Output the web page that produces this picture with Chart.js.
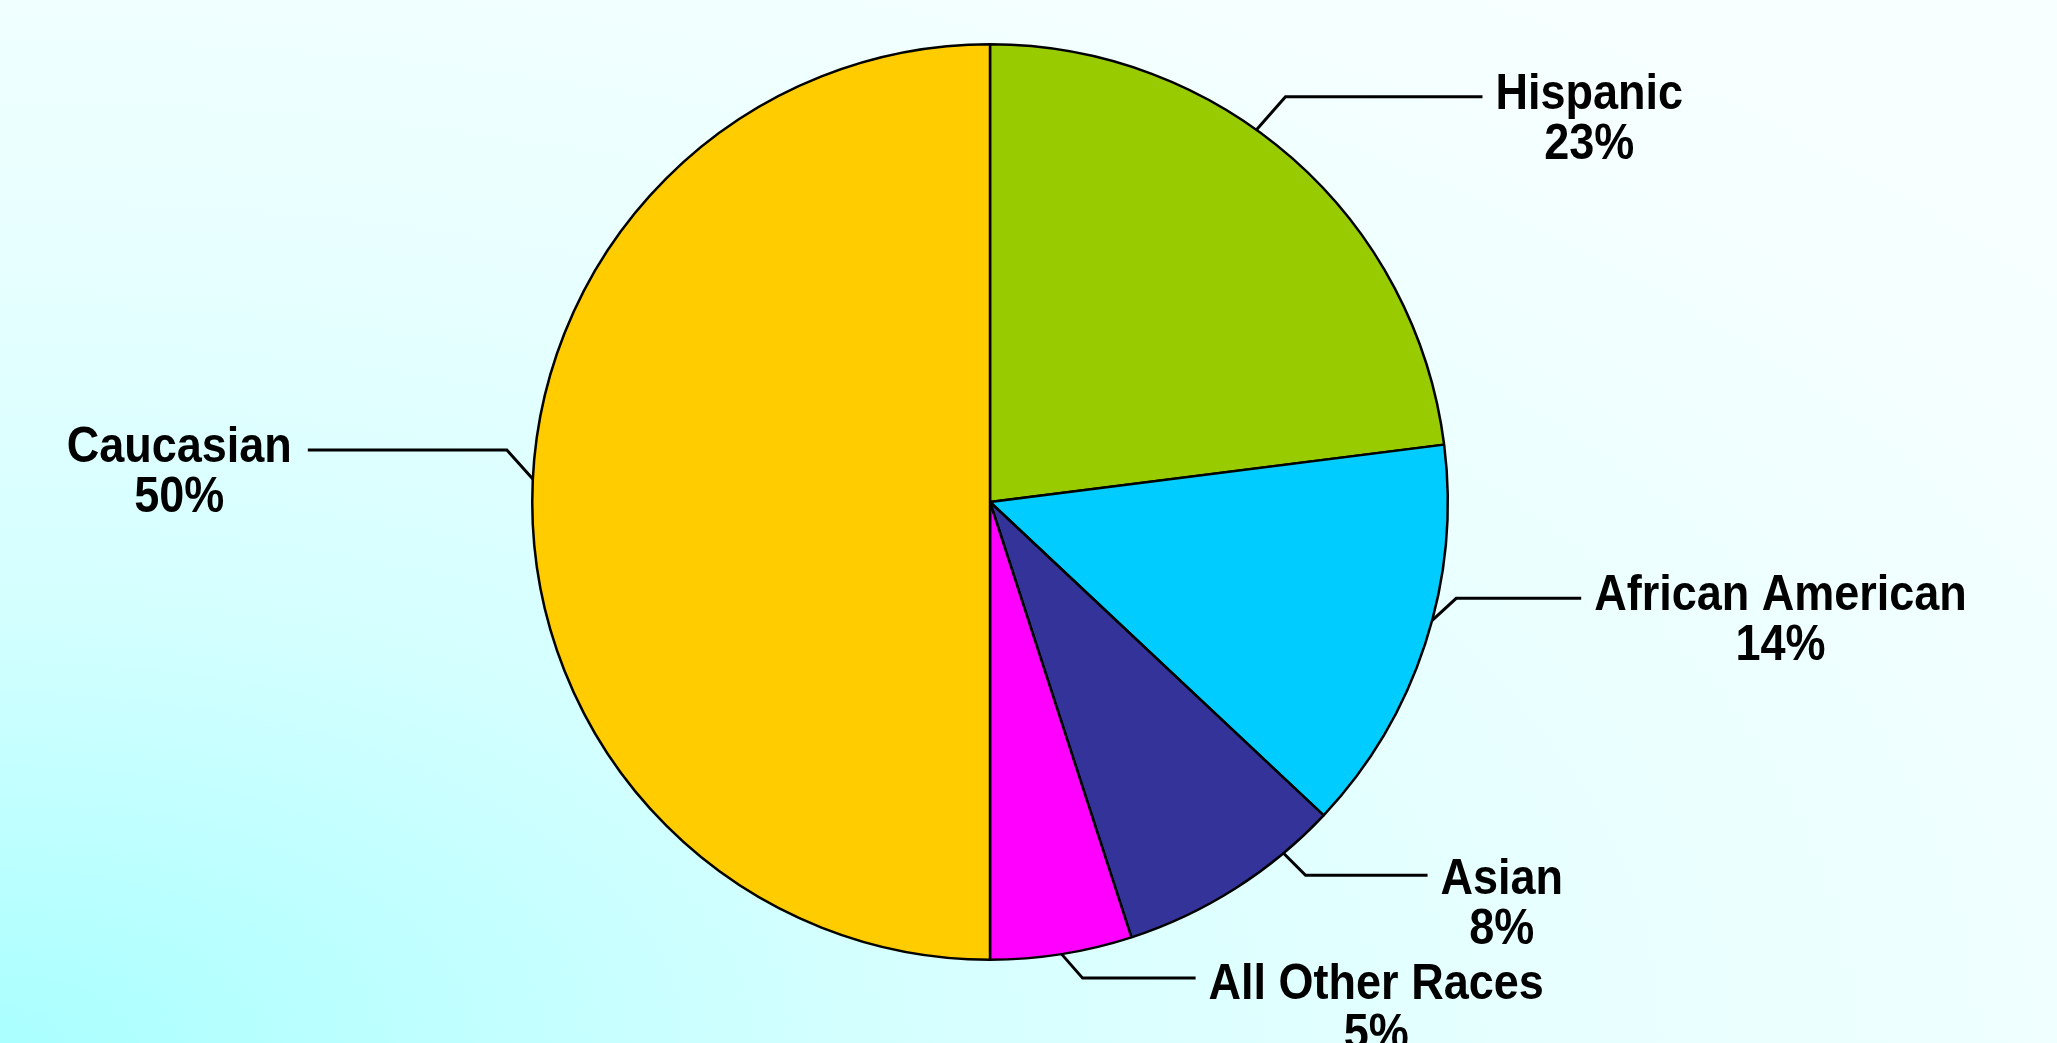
<!DOCTYPE html>
<html>
<head>
<meta charset="utf-8">
<script src="https://cdn.jsdelivr.net/npm/chart.js@4"></script>
<style>
  html, body { margin: 0; padding: 0; width: 100%; height: 100%; overflow: hidden; }
  body {
    background: radial-gradient(ellipse 140% 140% at 0% 100%, #aaffff 0%, #d4ffff 30%, #e8ffff 55%, #f6ffff 85%, #f8ffff 100%);
  }
  #wrap { position: absolute; left: 0; top: 0; width: 2057px; height: 1043px; }
</style>
</head>
<body>
<div id="wrap"><canvas id="pieChart"></canvas></div>
<script>
// Données du graphique (ordre horaire depuis midi)
const groupes = ["Hispanic", "African American", "Asian", "All Other Races", "Caucasian"];
const pourcentages = [23, 14, 8, 5, 50];
const couleurs = ["#99cc00", "#00ccff", "#333399", "#ff00ff", "#ffcc00"];

// Placement des étiquettes : point d'attache dans la part, coude, longueur du trait, décalage du texte
const reperes = [
  { at: 0.43, kx: 29, ky: -33, len: 197, ty: -2 },
  { at: 0.44, kx: 24, ky: -22, len: 125, ty: -2 },
  { at: 0.24, kx: 22, ky: 22, len: 122, ty: 5 },
  { at: 0.50, kx: 21, ky: 24, len: 113, ty: 7 },
  { at: 0.516, kx: -26, ky: -29, len: 199, ty: -2 }
];

// Plugin : traits de rappel et étiquettes
const etiquettes = {
  id: "etiquettes",
  afterDatasetsDraw(chart) {
    const ctx = chart.ctx;
    const meta = chart.getDatasetMeta(0);
    const sx = 0.9; // police un peu étroite comme l'original
    ctx.save();
    ctx.strokeStyle = "#000";
    ctx.lineWidth = 3;
    ctx.fillStyle = "#000";
    ctx.font = "bold 50px 'Liberation Sans', Arial, sans-serif";
    ctx.textAlign = "center";
    ctx.textBaseline = "middle";
    meta.data.forEach((arc, i) => {
      const r = reperes[i];
      const a = arc.startAngle + (arc.endAngle - arc.startAngle) * r.at;
      const x0 = arc.x + Math.cos(a) * arc.outerRadius;
      const y0 = arc.y + Math.sin(a) * arc.outerRadius;
      const x1 = x0 + r.kx;
      const y1 = y0 + r.ky;
      const dir = r.kx >= 0 ? 1 : -1;
      const x2 = x1 + dir * r.len;
      ctx.beginPath();
      ctx.moveTo(x0, y0);
      ctx.lineTo(x1, y1);
      ctx.lineTo(x2, y1);
      ctx.stroke();

      const l1 = groupes[i];
      const l2 = pourcentages[i] + "%";
      const w = Math.max(ctx.measureText(l1).width, ctx.measureText(l2).width) * sx;
      const cx = dir > 0 ? x2 + 13 + w / 2 : x2 - 16 - w / 2;
      ctx.save();
      ctx.translate(cx, y1 + r.ty);
      ctx.scale(sx, 1);
      ctx.fillText(l1, 0, 0);
      ctx.fillText(l2, 0, 50);
      ctx.restore();
    });
    ctx.restore();
  }
};

const ctx = document.getElementById("pieChart").getContext("2d");
const pieChart = new Chart(ctx, {
  type: "pie",
  data: {
    labels: groupes,
    datasets: [{
      data: pourcentages,
      backgroundColor: couleurs,
      borderColor: "#000000",
      borderWidth: 2.5
    }]
  },
  options: {
    responsive: true,
    maintainAspectRatio: false,
    animation: false,
    layout: {
      padding: { left: 531, right: 608, top: 42, bottom: 81 }
    },
    plugins: {
      legend: { display: false },
      tooltip: { enabled: false }
    }
  },
  plugins: [etiquettes]
});
</script>
</body>
</html>
